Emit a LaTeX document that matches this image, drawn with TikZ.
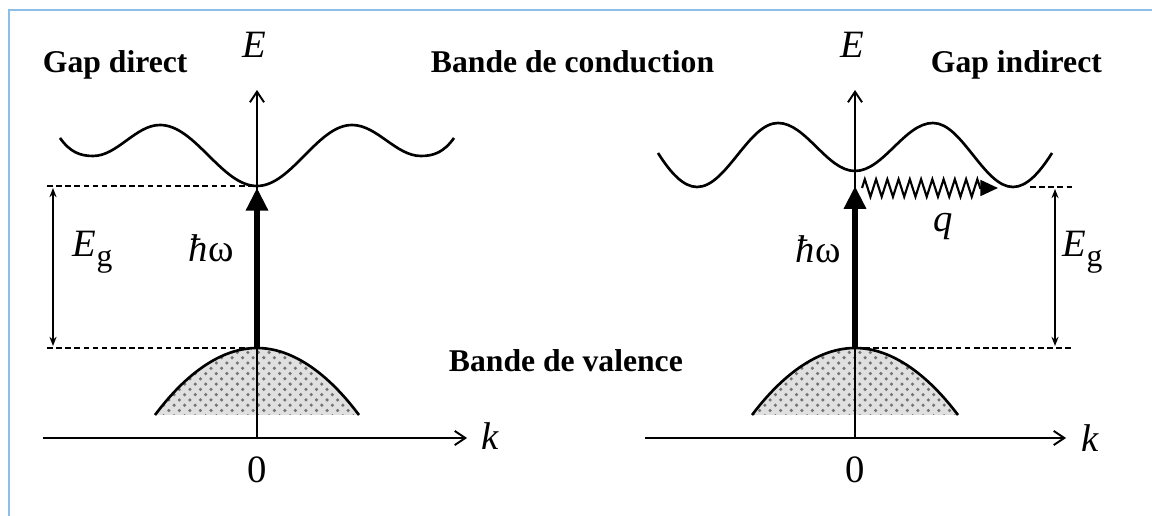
\documentclass[tikz,border=0pt]{standalone}
\usepackage{fontspec}
\setmainfont{Liberation Serif}
\usetikzlibrary{arrows.meta, patterns, decorations.pathmorphing}
\definecolor{framecol}{RGB}{140,190,232}

\begin{document}
\begin{tikzpicture}[x=0.01cm, y=-0.01cm, line width=0.55pt,
	title/.style={font=\fontsize{9}{11}\selectfont\bfseries, inner sep=0pt},
	sym/.style={font=\fontsize{11}{13}\selectfont, inner sep=0pt},
	axis/.style={-{Straight Barb[length=3pt, width=4pt]}},
	band/.style={line width=0.75pt},
	level/.style={dashed, dash pattern=on 1.6pt off 1pt, line width=0.4pt},
	gap/.style={{Stealth[length=2.6pt, width=2pt]}-{Stealth[length=2.6pt, width=2pt]}, line width=0.45pt},
	photon/.style={line width=1.8pt, -{Triangle[length=6.5pt, width=6pt]}},
	phonon/.style={decorate, decoration={zigzag, segment length=3.2pt, amplitude=2.5pt, post length=4.5pt},
		-{Triangle[length=5pt, width=4.5pt]}, line width=0.6pt}]

	\useasboundingbox (0,0) rectangle (1152,516);
	\draw[framecol, line width=0.7pt] (9,530) -- (9,10) -- (1170,10);

	% ============ PANEL (a): GAP DIRECT ============

	\def\xa{257}

	\coordinate (A_O) at (\xa,438);
	\coordinate (A_Etip) at (\xa,90);
	\coordinate (A_ktail) at (43,438);
	\coordinate (A_ktip) at (467,438);
	\coordinate (A_cmin) at (\xa,186);
	\coordinate (A_vtop) at (\xa,348);
	\coordinate (A_ltop) at (\xa-210,186);
	\coordinate (A_lbot) at (\xa-210,348);
	\coordinate (A_gtop) at (\xa-204,188);
	\coordinate (A_gbot) at (\xa-204,346);

	% Valence band (dotted fill)
	\fill[black!12] (\xa-102,415) parabola bend (A_vtop) (\xa+102,415) -- cycle;
	\fill[pattern=crosshatch dots, pattern color=black!55] (\xa-102,415) parabola bend (A_vtop) (\xa+102,415) -- cycle;
	\draw[band] (\xa-102,415) parabola bend (A_vtop) (\xa+102,415);

	% Conduction band
	\draw[band] (\xa-197,138) .. controls (\xa-187,152) and (\xa-177,156) .. (\xa-164,156)
		cos (\xa-130.5,140.5) sin (\xa-97,125) cos (\xa-48.5,155.5) sin (A_cmin)
		cos (\xa+47.5,155.5) sin (\xa+95,125) cos (\xa+129.5,140.5) sin (\xa+164,156)
		.. controls (\xa+177,156) and (\xa+187,152) .. (\xa+197,138);

	% Axes
	\draw[axis] (A_ktail) -- (A_ktip);
	\draw[axis] (A_O) -- (A_Etip);

	% Gap levels
	\draw[level] (A_ltop) -- (A_cmin);
	\draw[level] (A_lbot) -- (A_vtop);
	\draw[gap] (A_gtop) -- (A_gbot);
	\draw[photon] (A_vtop) -- ([yshift=-0.5pt]A_cmin);

	% Labels
	\node[title, anchor=base west] (A_title) at (42,73) {Gap direct};
	\node[sym, anchor=base] (A_E) at (\xa-3,58) {\textit{E}};
	\node[sym, anchor=base west] (A_k) at (481,450) {\textit{k}};
	\node[sym, anchor=base] (A_zero) at (\xa,483) {0};
	\node[sym, anchor=base west] (A_Eg) at (72,257) {\textit{E}\raisebox{-0.55ex}{\fontsize{9}{10}\selectfont g}};
	\node[sym, anchor=base west] (A_hw) at (188,262) {\textit{ħ}ω};

	% ============ PANEL (b): GAP INDIRECT ============

	\def\xb{855}

	\coordinate (B_O) at (\xb,438);
	\coordinate (B_Etip) at (\xb,90);
	\coordinate (B_ktail) at (645,438);
	\coordinate (B_ktip) at (1066,438);
	\coordinate (B_cmin) at (\xb,171);
	\coordinate (B_vtop) at (\xb,348);
	\coordinate (B_hit) at (\xb,186);
	\coordinate (B_qs) at (\xb+7,188);
	\coordinate (B_qe) at (\xb+143,188);
	\coordinate (B_ltop) at (\xb+175,187);
	\coordinate (B_rtop) at (\xb+217,187);
	\coordinate (B_rbot) at (\xb+217,348);
	\coordinate (B_gtop) at (\xb+200,189);
	\coordinate (B_gbot) at (\xb+200,346);

	% Valence band (dotted fill)
	\fill[black!12] (\xb-103,415) parabola bend (B_vtop) (\xb+103,415) -- cycle;
	\fill[pattern=crosshatch dots, pattern color=black!55] (\xb-103,415) parabola bend (B_vtop) (\xb+103,415) -- cycle;
	\draw[band] (\xb-103,415) parabola bend (B_vtop) (\xb+103,415);

	% Conduction band
	\draw[band] (\xb-197,153) .. controls (\xb-185,172) and (\xb-172,187) .. (\xb-158,187)
		cos (\xb-117.5,155) sin (\xb-77,123) cos (\xb-38.5,147) sin (B_cmin)
		cos (\xb+39,147) sin (\xb+78,123) cos (\xb+118,155) sin (\xb+158,187)
		.. controls (\xb+172,187) and (\xb+185,172) .. (\xb+197,153);

	% Axes
	\draw[axis] (B_ktail) -- (B_ktip);
	\draw[axis] (B_O) -- (B_Etip);

	% Gap levels
	\draw[level] (B_ltop) -- (B_rtop);
	\draw[level] (B_vtop) -- (B_rbot);
	\draw[gap] (B_gtop) -- (B_gbot);
	\draw[photon] (B_vtop) -- (B_hit);
	\draw[phonon] (B_qs) -- (B_qe);

	% Labels
	\node[title, anchor=base west] (B_title) at (930,73) {Gap indirect};
	\node[sym, anchor=base] (B_E) at (\xb-3,58) {\textit{E}};
	\node[sym, anchor=base west] (B_k) at (1081,452) {\textit{k}};
	\node[sym, anchor=base] (B_zero) at (\xb,483) {0};
	\node[sym, anchor=base west] (B_Eg) at (1062,257) {\textit{E}\raisebox{-0.55ex}{\fontsize{9}{10}\selectfont g}};
	\node[sym, anchor=base west] (B_hw) at (795,263) {\textit{ħ}ω};
	\node[sym, anchor=base west] (B_q) at (933,232) {\textit{q}};

	% Band names
	\node[title, anchor=base west] (condname) at (430,73) {Bande de conduction};
	\node[title, anchor=base west] (valname) at (448,372) {Bande de valence};

\end{tikzpicture}
\end{document}
